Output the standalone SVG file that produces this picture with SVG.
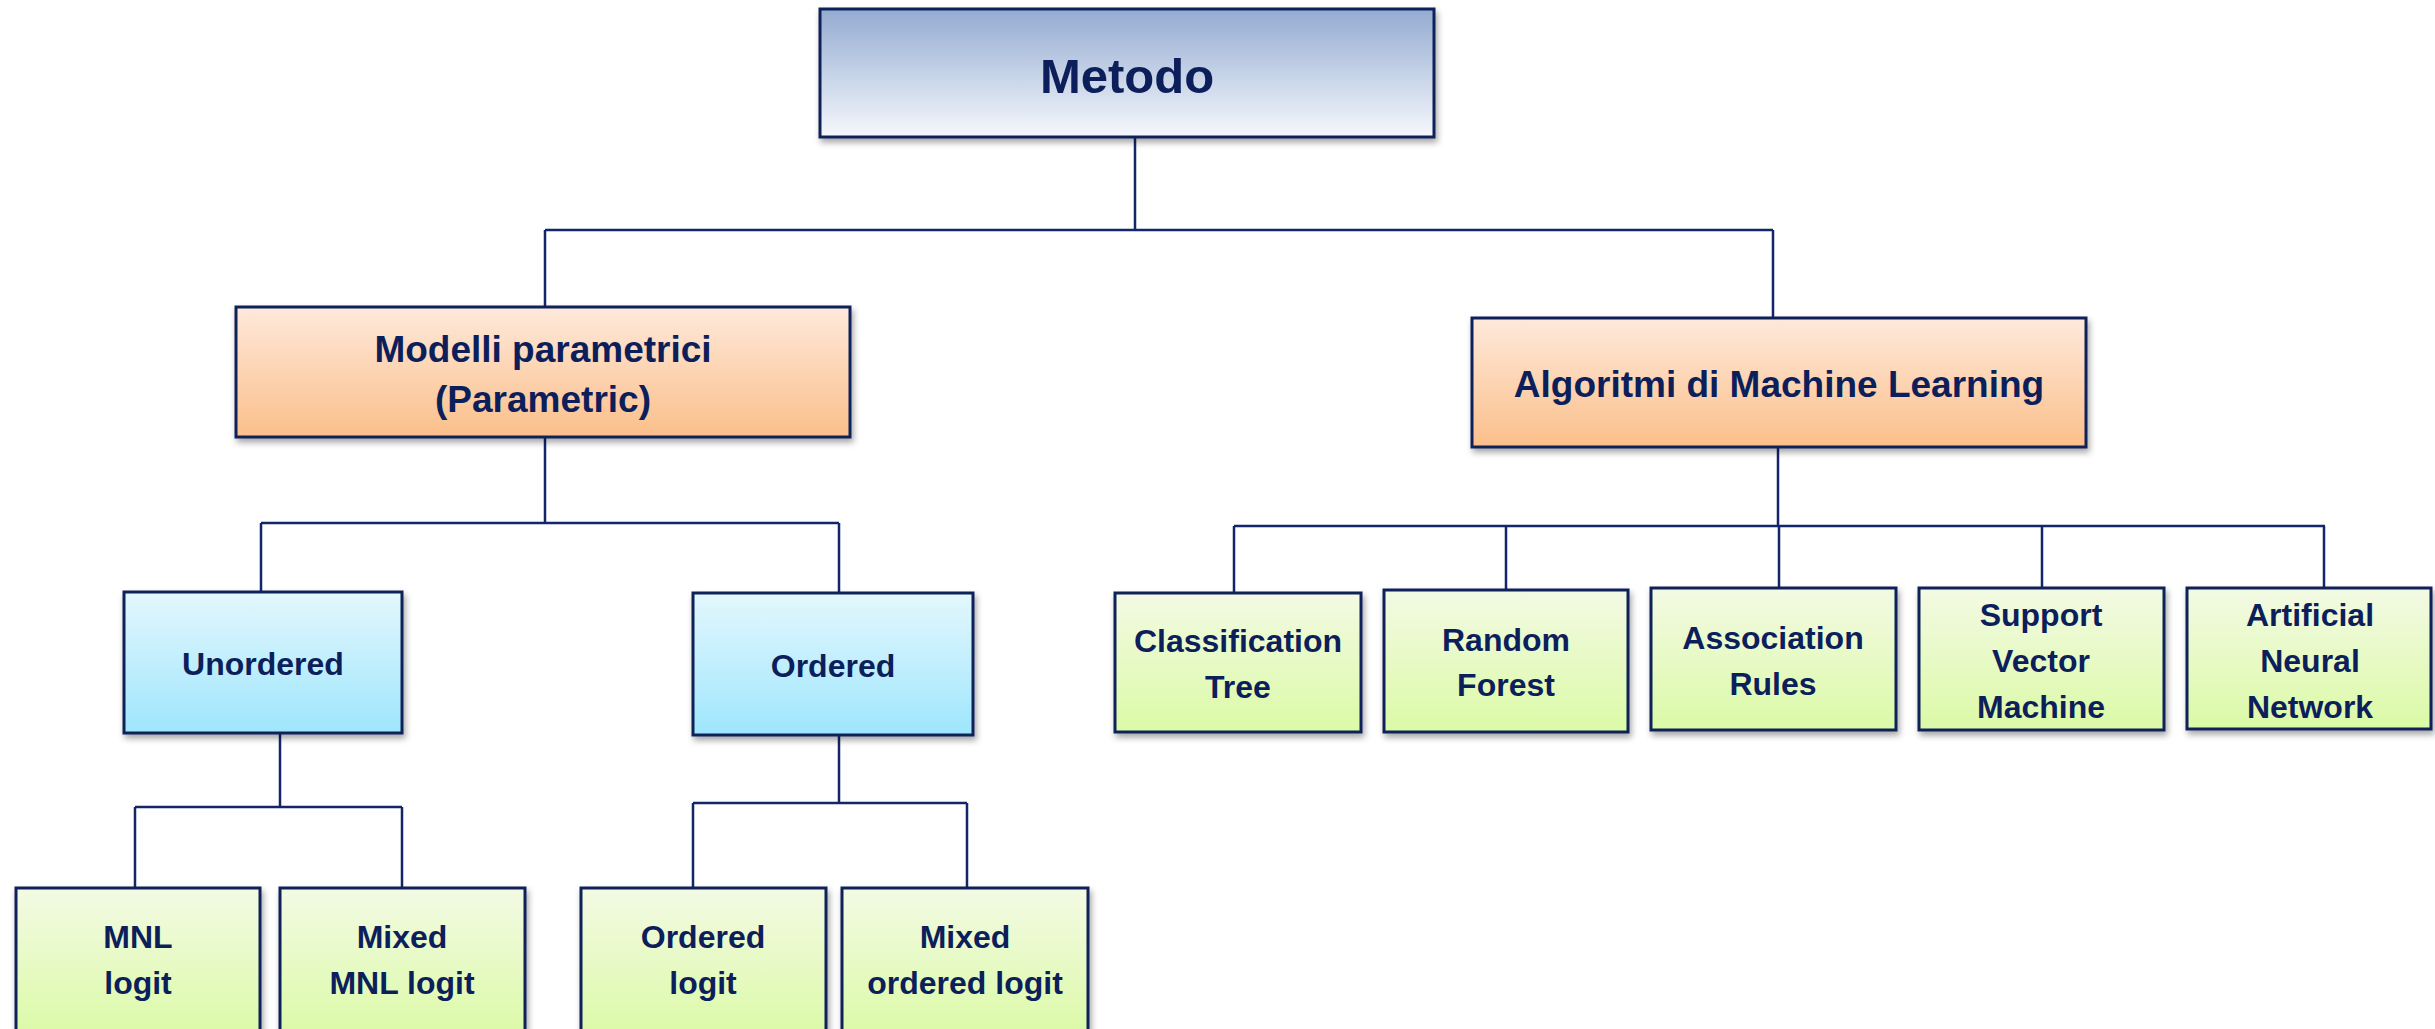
<svg xmlns="http://www.w3.org/2000/svg" width="2435" height="1029" viewBox="0 0 2435 1029">
<defs>
<linearGradient id="gTop" x1="0" y1="0" x2="0" y2="1"><stop offset="0" stop-color="#93abd1"/><stop offset="1" stop-color="#f6f8fc"/></linearGradient>
<linearGradient id="gOrange" x1="0" y1="0" x2="0" y2="1"><stop offset="0" stop-color="#fee9db"/><stop offset="1" stop-color="#fbbf8a"/></linearGradient>
<linearGradient id="gBlue" x1="0" y1="0" x2="0" y2="1"><stop offset="0" stop-color="#e4f7fd"/><stop offset="1" stop-color="#9ee6fd"/></linearGradient>
<linearGradient id="gGreen" x1="0" y1="0" x2="0" y2="1"><stop offset="0" stop-color="#f3fae4"/><stop offset="1" stop-color="#dbfaa6"/></linearGradient>
<filter id="sh" x="-10%" y="-10%" width="120%" height="130%"><feDropShadow dx="2" dy="4" stdDeviation="3" flood-color="#000" flood-opacity="0.35"/></filter>
</defs>
<style>
.box{stroke:#0e2158;stroke-width:3;filter:url(#sh)}
.t{font-family:"Liberation Sans",Arial,sans-serif;font-weight:bold;fill:#0c1f5a;text-anchor:middle}
.s{font-size:32px}
.m{font-size:37px}
.l{font-size:49px}
.c{stroke:#13266a;stroke-width:2.5;fill:none}
</style>
<rect width="2435" height="1029" fill="#fff"/>
<g id="connectors">
<path class="c" d="M1135 137V230M545 230H1773M545 230V307M1773 230V318"/>
<path class="c" d="M545 437V523M261 523H839M261 523V592M839 523V593"/>
<path class="c" d="M280 733V807M135 807H402M135 807V888M402 807V888"/>
<path class="c" d="M839 735V803M693 803H967M693 803V888M967 803V888"/>
<path class="c" d="M1778 447V526M1234 526H2325M1234 526V593M1506 526V590M1779 526V588M2042 526V588M2324 526V588"/>
</g>
<g id="metodo"><rect class="box" x="820" y="9" width="614" height="128" fill="url(#gTop)"/><text class="t l" x="1127" y="93">Metodo</text></g>
<g id="parametric"><rect class="box" x="236" y="307" width="614" height="130" fill="url(#gOrange)"/><text class="t m" x="543" y="362">Modelli parametrici</text><text class="t m" x="543" y="412">(Parametric)</text></g>
<g id="ml"><rect class="box" x="1472" y="318" width="614" height="129" fill="url(#gOrange)"/><text class="t m" x="1779" y="397">Algoritmi di Machine Learning</text></g>
<g id="unordered"><rect class="box" x="124" y="592" width="278" height="141" fill="url(#gBlue)"/><text class="t s" x="263" y="675">Unordered</text></g>
<g id="ordered"><rect class="box" x="693" y="593" width="280" height="142" fill="url(#gBlue)"/><text class="t s" x="833" y="677">Ordered</text></g>
<g id="mnl"><rect class="box" x="16" y="888" width="244" height="150" fill="url(#gGreen)"/><text class="t s" x="138" y="948">MNL</text><text class="t s" x="138" y="994">logit</text></g>
<g id="mixedmnl"><rect class="box" x="280" y="888" width="245" height="150" fill="url(#gGreen)"/><text class="t s" x="402" y="948">Mixed</text><text class="t s" x="402" y="994">MNL logit</text></g>
<g id="orderedlogit"><rect class="box" x="581" y="888" width="245" height="150" fill="url(#gGreen)"/><text class="t s" x="703" y="948">Ordered</text><text class="t s" x="703" y="994">logit</text></g>
<g id="mixedordered"><rect class="box" x="842" y="888" width="246" height="150" fill="url(#gGreen)"/><text class="t s" x="965" y="948">Mixed</text><text class="t s" x="965" y="994">ordered logit</text></g>
<g id="ctree"><rect class="box" x="1115" y="593" width="246" height="139" fill="url(#gGreen)"/><text class="t s" x="1238" y="652">Classification</text><text class="t s" x="1238" y="698">Tree</text></g>
<g id="rforest"><rect class="box" x="1384" y="590" width="244" height="142" fill="url(#gGreen)"/><text class="t s" x="1506" y="651">Random</text><text class="t s" x="1506" y="696">Forest</text></g>
<g id="assoc"><rect class="box" x="1651" y="588" width="245" height="142" fill="url(#gGreen)"/><text class="t s" x="1773" y="649">Association</text><text class="t s" x="1773" y="695">Rules</text></g>
<g id="svm"><rect class="box" x="1919" y="588" width="245" height="142" fill="url(#gGreen)"/><text class="t s" x="2041" y="626">Support</text><text class="t s" x="2041" y="672">Vector</text><text class="t s" x="2041" y="718">Machine</text></g>
<g id="ann"><rect class="box" x="2187" y="588" width="244" height="141" fill="url(#gGreen)"/><text class="t s" x="2310" y="626">Artificial</text><text class="t s" x="2310" y="672">Neural</text><text class="t s" x="2310" y="718">Network</text></g>
</svg>
